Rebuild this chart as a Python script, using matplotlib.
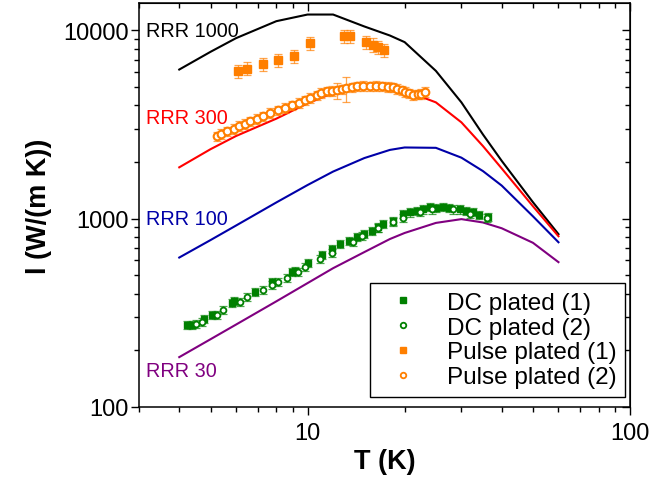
import matplotlib
matplotlib.use("Agg")
import matplotlib.pyplot as plt
from matplotlib.lines import Line2D
from matplotlib.ticker import FixedLocator, FixedFormatter, NullFormatter
import numpy as np

plt.rcParams['font.family'] = ['Liberation Sans', 'DejaVu Sans']

# model curves (temperature grid shared by all RRR curves)
T_model = [4, 5, 6, 8, 10, 12, 15, 18, 20, 25, 30, 35, 40, 50, 60]
rrr1000 = [6200, 7700, 9100, 11200, 12150, 12150, 10500, 9400, 8670, 6100, 4150, 2800, 2030, 1224, 828]
rrr300 = [1875, 2340, 2750, 3400, 4100, 4650, 5000, 4950, 4800, 4150, 3250, 2430, 1850, 1165, 807]
rrr100 = [622, 770, 920, 1220, 1510, 1780, 2100, 2320, 2390, 2380, 2110, 1790, 1500, 1030, 750]
rrr30 = [184, 229, 274, 364, 455, 546, 665, 780, 840, 950, 995, 955, 890, 745, 588]

# DC plated (1)
dc1_T = [4.24, 4.39, 4.79, 5.04, 5.85, 5.93, 6.85, 7.73, 8.92, 9.11, 10.0, 11.05, 11.9, 12.6,
         13.4, 14.2, 15.0, 15.8, 16.5, 17.1, 18.4, 19.7, 20.8, 21.8, 22.8, 23.9, 25.0, 26.3,
         27.5, 29.6, 31.0, 32.5, 34.0, 36.2]
dc1_I = [272, 272, 293, 308, 356, 365, 407, 460, 520, 526, 581, 640, 689, 733,
         765, 798, 830, 859, 900, 935, 970, 1057, 1080, 1096, 1120, 1151, 1140, 1151,
         1140, 1122, 1100, 1082, 1050, 1019]

# DC plated (2)
dc2_T = [4.52, 4.69, 5.22, 5.48, 6.19, 6.51, 7.30, 7.73, 8.07, 8.61, 9.31, 9.79, 10.9, 11.9,
         13.8, 14.8, 16.5, 18.4, 19.7, 22.3, 24.4, 28.2, 31.8, 36.0]
dc2_I = [275, 283, 308, 327, 361, 383, 418, 444, 460, 483, 520, 553, 610, 656,
         750, 808, 890, 958, 1006, 1082, 1122, 1122, 1057, 1006]

# Pulse plated (1)
ps1_T = [6.1, 6.5, 7.25, 8.1, 9.1, 10.2, 13.0, 13.5, 15.2, 15.9, 16.5, 17.2]
ps1_I = [6070, 6270, 6610, 6930, 7280, 8530, 9350, 9300, 8650, 8400, 8170, 7890]

# Pulse plated (2)
ps2_T = [5.22, 5.4, 5.64, 5.9, 6.15, 6.4, 6.61, 6.95, 7.25, 7.65, 8.07, 8.5, 8.98, 9.4,
         9.79, 10.2, 10.66, 11.0, 11.46, 11.9, 12.3, 12.8, 13.2, 13.7, 14.2, 14.9, 15.6,
         16.3, 17.0, 17.7, 18.4, 19.0, 19.6, 20.1, 20.7, 21.3, 22.0, 22.5, 23.1]
ps2_I = [2740, 2820, 2910, 3000, 3100, 3200, 3290, 3400, 3500, 3640, 3765, 3880, 4000, 4130,
         4255, 4400, 4520, 4640, 4750, 4780, 4810, 4870, 4925, 4990, 5050, 5060, 5050,
         5060, 5050, 5020, 4990, 4900, 4810, 4720, 4630, 4560, 4580, 4600, 4700]
ps2_rel = [0.06] * len(ps2_T)
ps2_rel[20] = 0.10
ps2_rel[22] = 0.15

GREEN = '#008000'
ORANGE = '#ff7f00'

fig = plt.figure(figsize=(6.72, 4.81), dpi=100)
ax = fig.add_axes([0.2068, 0.1518, 0.7307, 0.840])
ax.set_xscale('log')
ax.set_yscale('log')

ax.plot(T_model, rrr1000, color='black', lw=1.5, zorder=2)
ax.plot(T_model, rrr300, color='#ff0000', lw=1.5, zorder=2)
ax.plot(T_model, rrr100, color='#0000a8', lw=1.5, zorder=2)
ax.plot(T_model, rrr30, color='#800080', lw=1.5, zorder=2)

dc1_I = np.array(dc1_I)
dc2_I = np.array(dc2_I)
ps1_I = np.array(ps1_I)
ps2_I = np.array(ps2_I)

eb = dict(fmt='none', elinewidth=0.9, capsize=2.8, capthick=0.9, zorder=3)
ax.errorbar(dc1_T, dc1_I, yerr=dc1_I * 0.05, ecolor=GREEN, alpha=0.7, **eb)
ax.errorbar(dc2_T, dc2_I, yerr=dc2_I * 0.05, ecolor=GREEN, alpha=0.7, **eb)
ax.errorbar(ps1_T, ps1_I, yerr=ps1_I * 0.08, ecolor=ORANGE, alpha=0.7, **eb)
ax.errorbar(ps2_T, ps2_I, yerr=ps2_I * np.array(ps2_rel), ecolor=ORANGE, alpha=0.7, **eb)

ax.plot(dc1_T, dc1_I, 's', color=GREEN, ms=4.5, zorder=4)
ax.plot(dc2_T, dc2_I, 'o', mfc='white', mec=GREEN, mew=1.3, ms=4.2, zorder=5)
ax.plot(ps1_T, ps1_I, 's', color=ORANGE, ms=5.5, zorder=4)
ax.plot(ps2_T, ps2_I, 'o', mfc='white', mec=ORANGE, mew=1.5, ms=5.5, zorder=5)

lab = dict(fontsize=14.3, va='center', ha='left')
ax.text(3.16, 10000, 'RRR 1000', color='black', **lab)
ax.text(3.16, 3450, 'RRR 300', color='#ff0000', **lab)
ax.text(3.16, 1000, 'RRR 100', color='#0000a8', **lab)
ax.text(3.16, 156, 'RRR 30', color='#800080', **lab)

ax.set_xlim(3, 100)
ax.set_ylim(100, 14000)

ax.xaxis.set_major_locator(FixedLocator([10, 100]))
ax.xaxis.set_major_formatter(FixedFormatter(['10', '100']))
ax.xaxis.set_minor_formatter(NullFormatter())
ax.yaxis.set_major_locator(FixedLocator([100, 1000, 10000]))
ax.yaxis.set_major_formatter(FixedFormatter(['100', '1000', '10000']))
ax.yaxis.set_minor_formatter(NullFormatter())

ax.tick_params(which='both', direction='out', width=1, labelsize=17)
ax.tick_params(which='major', length=6)
ax.tick_params(which='minor', length=3.5)
ax.tick_params(axis='x', pad=5)
ax.tick_params(axis='y', pad=1.5)
for s in ax.spines.values():
    s.set_linewidth(1.1)

top = ax.secondary_xaxis('top')
top.tick_params(which='both', direction='in', width=1, labeltop=False)
top.tick_params(which='major', length=6)
top.tick_params(which='minor', length=3.5)
right = ax.secondary_yaxis('right')
right.tick_params(which='both', direction='in', width=1, labelright=False)
right.tick_params(which='major', length=6)
right.tick_params(which='minor', length=3.5)

ax.set_xlabel('T (K)', fontsize=19.5, fontweight='bold', labelpad=3)
ax.set_ylabel('l (W/(m K))', fontsize=19.5, fontweight='bold', labelpad=8)

handles = [
    Line2D([], [], marker='s', ls='none', color=GREEN, ms=4),
    Line2D([], [], marker='o', ls='none', mfc='white', mec=GREEN, mew=1.3, ms=4),
    Line2D([], [], marker='s', ls='none', color=ORANGE, ms=4),
    Line2D([], [], marker='o', ls='none', mfc='white', mec=ORANGE, mew=1.3, ms=4),
]
labels = ['DC plated (1)', 'DC plated (2)', 'Pulse plated (1)', 'Pulse plated (2)']
leg = ax.legend(handles, labels, loc='lower right', bbox_to_anchor=(0.99, 0.025),
                borderaxespad=0, fontsize=17.5, frameon=True, fancybox=False,
                edgecolor='black', framealpha=1, handlelength=2.0, handletextpad=0.8,
                labelspacing=0.12, borderpad=0.35)
leg.get_frame().set_linewidth(1)

fig.savefig('out.png', dpi=100)
